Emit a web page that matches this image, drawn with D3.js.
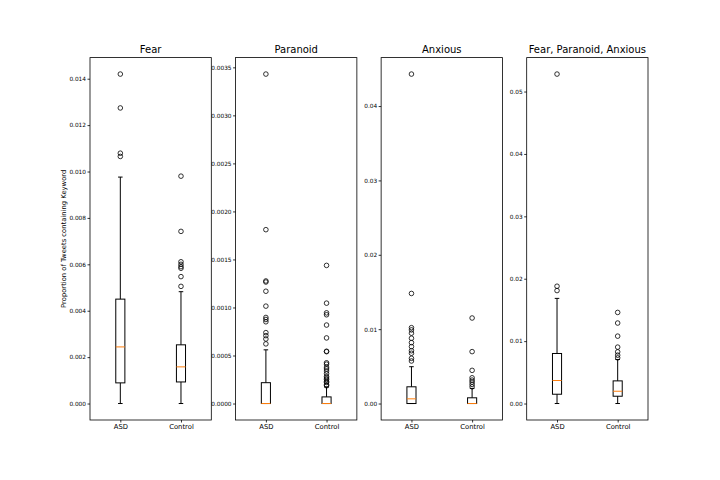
<!DOCTYPE html>
<html>
<head>
<meta charset="utf-8">
<script src="https://cdn.jsdelivr.net/npm/d3@7"></script>
<style>
  html, body { margin: 0; padding: 0; background: #fff; }
  svg { display: block; font-family: "DejaVu Sans", sans-serif; }
</style>
</head>
<body>
<svg id="chart" width="720" height="480"></svg>
<script>
// ---------- data ----------
const panelTitles = ["Fear", "Paranoid", "Anxious", "Fear, Paranoid, Anxious"];
const groups = ["ASD", "Control"];
const yLabel = "Proportion of Tweets containing Keyword";

// per panel: [ASD, Control]
const whiskerLow = [[0, 0], [0, 0], [0, 0], [0, 0]];
const q1 = [[0.00089, 0.00093], [0, 0], [0, 0], [0.00149, 0.00117]];
const median = [[0.00244, 0.00158], [0, 0], [0.00063, 0], [0.00369, 0.00197]];
const q3 = [[0.0045, 0.00253], [0.000217, 0.000069], [0.00225, 0.00077], [0.00802, 0.00363]];
const whiskerHigh = [[0.00976, 0.00482], [0.000559, 0.000172], [0.00495, 0.00203], [0.01685, 0.00706]];

const outliersFear = [
  [0.0142, 0.01274, 0.01079, 0.01065],
  [0.0098, 0.00742, 0.00611, 0.0060, 0.0059, 0.00583, 0.00547, 0.00505]
];
const outliersParanoid = [
  [0.00343, 0.00181, 0.001276, 0.001265, 0.001169, 0.001014, 0.000896, 0.000875, 0.000851, 0.000738, 0.000707, 0.000672, 0.000621],
  [0.001438, 0.001045, 0.000944, 0.000924, 0.000817, 0.000683, 0.000544, 0.00054, 0.000424, 0.00041, 0.000379, 0.00036, 0.000338, 0.00031, 0.00028, 0.000265, 0.00025, 0.00023, 0.00022, 0.000195, 0.000185]
];
const outliersAnxious = [
  [0.0443, 0.0148, 0.0102, 0.0099, 0.00946, 0.00878, 0.00819, 0.00765, 0.0071, 0.00676, 0.00608, 0.00572],
  [0.0115, 0.00698, 0.00446, 0.00346, 0.00315, 0.00288, 0.00257, 0.00225]
];
const outliersAll = [
  [0.0528, 0.0188, 0.0181],
  [0.0146, 0.0129, 0.0108, 0.00904, 0.00828, 0.00775, 0.00732]
];
const outliers = [outliersFear, outliersParanoid, outliersAnxious, outliersAll];

const tickValues = [
  [0, 0.002, 0.004, 0.006, 0.008, 0.010, 0.012, 0.014],
  [0, 0.0005, 0.0010, 0.0015, 0.0020, 0.0025, 0.0030, 0.0035],
  [0, 0.01, 0.02, 0.03, 0.04],
  [0, 0.01, 0.02, 0.03, 0.04, 0.05]
];
const tickFormats = [".3f", ".4f", ".2f", ".2f"];

// ---------- layout ----------
const svg = d3.select("#chart");
const figLeft = 90, figRight = 648, axTop = 57.6, axBottom = 420;
const nPanels = panelTitles.length;
const wspace = 0.2;
const panelW = (figRight - figLeft) / (nPanels + wspace * (nPanels - 1));
const gap = panelW * wspace;
const boxWidth = 0.15; // in position units
const font = "DejaVu Sans, sans-serif";

panelTitles.forEach((title, p) => {
  const x0 = figLeft + p * (panelW + gap);
  const x1 = x0 + panelW;

  const allVals = [].concat(whiskerLow[p], whiskerHigh[p], outliers[p][0], outliers[p][1]);
  const lo = d3.min(allVals), hi = d3.max(allVals);
  const pad = (hi - lo) * 0.05;
  const y = d3.scaleLinear().domain([lo - pad, hi + pad]).range([axBottom, axTop]);
  const x = d3.scaleLinear().domain([0.5, 2.5]).range([x0, x1]);

  const g = svg.append("g");

  // y axis
  const yAxis = d3.axisLeft(y)
    .tickValues(tickValues[p])
    .tickFormat(d3.format(tickFormats[p]))
    .tickSize(2.5)
    .tickSizeOuter(0)
    .tickPadding(1.5);
  const ya = g.append("g").attr("transform", `translate(${x0},0)`).call(yAxis);
  ya.select(".domain").remove();
  ya.selectAll("line").attr("stroke", "#000").attr("stroke-width", 0.8);
  ya.selectAll("text").attr("font-size", 5.8).attr("font-family", font).attr("fill", "#000");

  // x axis
  const xAxis = d3.axisBottom(x)
    .tickValues([1, 2])
    .tickFormat((d, i) => groups[i])
    .tickSize(2.5)
    .tickSizeOuter(0)
    .tickPadding(1.5);
  const xa = g.append("g").attr("transform", `translate(0,${axBottom})`).call(xAxis);
  xa.select(".domain").remove();
  xa.selectAll("line").attr("stroke", "#000").attr("stroke-width", 0.8);
  xa.selectAll("text").attr("font-size", 6.8).attr("font-family", font).attr("fill", "#000");

  // boxes
  groups.forEach((grp, i) => {
    const pos = i + 1;
    const bx0 = x(pos - boxWidth / 2), bx1 = x(pos + boxWidth / 2);
    const cx0 = x(pos - boxWidth / 4), cx1 = x(pos + boxWidth / 4);
    const cx = x(pos);
    const gb = g.append("g").attr("stroke", "#000").attr("stroke-width", 1).attr("fill", "none");
    gb.append("line").attr("x1", cx).attr("x2", cx).attr("y1", y(q1[p][i])).attr("y2", y(whiskerLow[p][i]));
    gb.append("line").attr("x1", cx).attr("x2", cx).attr("y1", y(q3[p][i])).attr("y2", y(whiskerHigh[p][i]));
    gb.append("line").attr("x1", cx0).attr("x2", cx1).attr("y1", y(whiskerLow[p][i])).attr("y2", y(whiskerLow[p][i]));
    gb.append("line").attr("x1", cx0).attr("x2", cx1).attr("y1", y(whiskerHigh[p][i])).attr("y2", y(whiskerHigh[p][i]));
    gb.append("rect")
      .attr("x", bx0).attr("width", bx1 - bx0)
      .attr("y", y(q3[p][i])).attr("height", Math.max(0, y(q1[p][i]) - y(q3[p][i])));
    g.append("line")
      .attr("x1", bx0).attr("x2", bx1)
      .attr("y1", y(median[p][i])).attr("y2", y(median[p][i]))
      .attr("stroke", "#ff7f0e").attr("stroke-width", 1);
    g.append("g").selectAll("circle").data(outliers[p][i]).join("circle")
      .attr("cx", cx).attr("cy", d => y(d)).attr("r", 2.3)
      .attr("fill", "none").attr("stroke", "#000").attr("stroke-width", 0.8);
  });

  // frame
  g.append("rect")
    .attr("x", x0).attr("y", axTop).attr("width", x1 - x0).attr("height", axBottom - axTop)
    .attr("fill", "none").attr("stroke", "#000").attr("stroke-width", 0.8);

  // title
  g.append("text")
    .attr("x", (x0 + x1) / 2).attr("y", axTop - 4.5)
    .attr("text-anchor", "middle")
    .attr("font-size", 10).attr("font-family", font).attr("fill", "#000")
    .text(title);
});

// y label
svg.append("text")
  .attr("transform", `translate(66,${(axTop + axBottom) / 2}) rotate(-90)`)
  .attr("text-anchor", "middle")
  .attr("font-size", 6.8).attr("font-family", font).attr("fill", "#000")
  .text(yLabel);
</script>
</body>
</html>
